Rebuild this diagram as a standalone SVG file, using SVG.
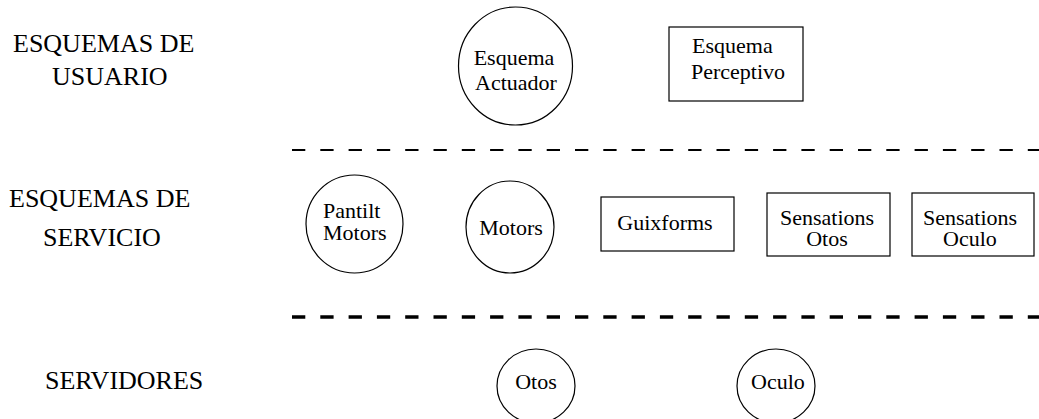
<svg xmlns="http://www.w3.org/2000/svg" width="1039" height="419" viewBox="0 0 1039 419">
  <style>
    .shape { fill: #fff; stroke: #000; stroke-width: 1.2; }
    .node { font-family: "Liberation Serif", "Times New Roman", serif; font-size: 22px; fill: #000; }
    .mid { text-anchor: middle; }
    .layer { font-family: "Liberation Serif", "Times New Roman", serif; font-size: 26px; fill: #000; }
    .sep { stroke: #000; fill: none; stroke-dasharray: 13.3 15; }
  </style>

  <!-- layer titles -->
  <g id="layer-labels">
    <text class="layer" x="13" y="52">ESQUEMAS DE</text>
    <text class="layer" x="52" y="85">USUARIO</text>
    <text class="layer" x="9" y="207">ESQUEMAS DE</text>
    <text class="layer" x="43" y="246">SERVICIO</text>
    <text class="layer" x="45" y="389">SERVIDORES</text>
  </g>

  <!-- layer separators -->
  <g id="separators">
    <line class="sep" x1="292" y1="150" x2="1039" y2="150" stroke-width="2"/>
    <line class="sep" x1="292" y1="317" x2="1039" y2="317" stroke-width="3.5"/>
  </g>

  <!-- user schemas -->
  <g id="esquema-actuador">
    <ellipse class="shape" cx="515.5" cy="66" rx="57" ry="59"/>
    <text class="node mid" x="514" y="65">Esquema</text>
    <text class="node mid" x="516" y="90">Actuador</text>
  </g>
  <g id="esquema-perceptivo">
    <rect class="shape" x="669" y="27" width="134" height="74"/>
    <text class="node" x="692" y="53">Esquema</text>
    <text class="node" x="691" y="79">Perceptivo</text>
  </g>

  <!-- service schemas -->
  <g id="pantilt-motors">
    <ellipse class="shape" cx="354.5" cy="224" rx="48.5" ry="49"/>
    <text class="node" x="323" y="218">Pantilt</text>
    <text class="node" x="323" y="240">Motors</text>
  </g>
  <g id="motors">
    <ellipse class="shape" cx="510" cy="227" rx="44" ry="46"/>
    <text class="node mid" x="511" y="235">Motors</text>
  </g>
  <g id="guixforms">
    <rect class="shape" x="601" y="197" width="133" height="54"/>
    <text class="node mid" x="665" y="230">Guixforms</text>
  </g>
  <g id="sensations-otos">
    <rect class="shape" x="767" y="193" width="123" height="63"/>
    <text class="node mid" x="827" y="225">Sensations</text>
    <text class="node mid" x="827" y="246">Otos</text>
  </g>
  <g id="sensations-oculo">
    <rect class="shape" x="912" y="193" width="122" height="63"/>
    <text class="node mid" x="970" y="225">Sensations</text>
    <text class="node mid" x="970" y="246">Oculo</text>
  </g>

  <!-- servers -->
  <g id="otos">
    <ellipse class="shape" cx="536" cy="386" rx="39" ry="37"/>
    <text class="node mid" x="536" y="389">Otos</text>
  </g>
  <g id="oculo">
    <ellipse class="shape" cx="776" cy="386" rx="39" ry="37"/>
    <text class="node mid" x="778" y="389">Oculo</text>
  </g>

  <!-- no connectors are drawn between nodes -->
  <g id="connectors"/>
</svg>
